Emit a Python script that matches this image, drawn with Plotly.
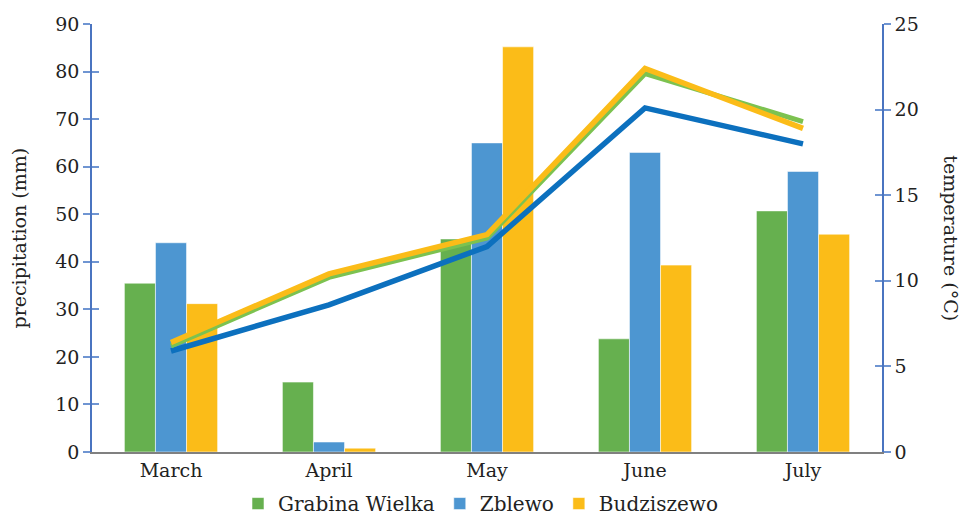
import plotly.graph_objects as go

months = ["March", "April", "May", "June", "July"]
stations = ["Grabina Wielka", "Zblewo", "Budziszewo"]
precip_grabina = [35.5, 14.7, 44.8, 23.8, 50.7]
precip_zblewo = [44.0, 2.1, 65.0, 63.0, 59.0]
precip_budziszewo = [31.2, 0.8, 85.2, 39.3, 45.8]
temp_grabina = [6.2, 10.2, 12.5, 22.1, 19.3]
temp_zblewo = [5.9, 8.6, 12.0, 20.1, 18.0]
temp_budziszewo = [6.4, 10.4, 12.7, 22.4, 18.9]

bar_colors = ["#66B04F", "#4D96D1", "#FBBC18"]
line_colors = ["#7CC250", "#0C70BE", "#FBBC18"]
FONT = "DejaVu Serif"
FS = 19

fig = go.Figure()
for name, vals, col in zip(stations, [precip_grabina, precip_zblewo, precip_budziszewo], bar_colors):
    fig.add_trace(go.Bar(x=months, y=vals, name=name, marker=dict(color=col, line=dict(color="rgba(255,255,255,0.55)", width=1)),
                         yaxis="y"))

for name, vals, col, w in [("Zblewo", temp_zblewo, line_colors[1], 5.5),
                           ("Grabina Wielka", temp_grabina, line_colors[0], 5),
                           ("Budziszewo", temp_budziszewo, line_colors[2], 5.5)]:
    fig.add_trace(go.Scatter(x=months, y=vals, mode="lines", line=dict(color=col, width=w),
                             yaxis="y2", showlegend=False, name=name))

fig.add_trace(go.Scatter(x=months, y=[None]*5, yaxis="y3", showlegend=False, hoverinfo="skip"))
fig.add_trace(go.Scatter(x=months, y=[None]*5, yaxis="y4", showlegend=False, hoverinfo="skip"))

axfont = dict(family=FONT, size=FS, color="#222")
common = dict(showgrid=False, zeroline=False)
fig.update_layout(
    width=961, height=517,
    margin=dict(l=92, r=79, t=24, b=65, autoexpand=False),
    paper_bgcolor="white", plot_bgcolor="white",
    barmode="group", bargap=0.41, bargroupgap=0,
    font=dict(family=FONT, size=FS, color="#222"),
    xaxis=dict(showline=True, linecolor="#808080", linewidth=2, ticks="", tickfont=axfont, showgrid=False),
    yaxis=dict(range=[0, 90], dtick=10, showline=True, linecolor="#4A74C0", linewidth=1.5,
               ticks="outside", ticklen=7, tickcolor="#6F95D2", tickwidth=1.5, tickfont=axfont, **common),
    yaxis3=dict(range=[0, 90], dtick=10, overlaying="y", side="left", showline=False, showticklabels=False,
                ticks="inside", ticklen=7, tickcolor="#6F95D2", tickwidth=1.5, **common),
    yaxis2=dict(range=[0, 25], dtick=5, overlaying="y", side="right", showline=True, linecolor="#4A74C0", linewidth=1.5,
                ticks="outside", ticklen=7, tickcolor="#6F95D2", tickwidth=1.5, tickfont=axfont, **common),
    yaxis4=dict(range=[0, 25], dtick=5, overlaying="y", side="right", showline=False, showticklabels=False,
                ticks="inside", ticklen=7, tickcolor="#6F95D2", tickwidth=1.5, **common),
    legend=dict(orientation="h", x=0.5, xanchor="center", xref="container", y=0.026, yanchor="middle", yref="container",
                bgcolor="rgba(0,0,0,0)", font=dict(family=FONT, size=20, color="#222"), itemwidth=30, traceorder="normal"),
    annotations=[
        dict(text="precipitation (mm)", xref="paper", yref="paper", x=-0.093, y=0.5, textangle=-90,
             showarrow=False, font=dict(family=FONT, size=FS, color="#222"), xanchor="center", yanchor="middle"),
        dict(text="temperature (°C)", xref="paper", yref="paper", x=1.087, y=0.5, textangle=90,
             showarrow=False, font=dict(family=FONT, size=FS, color="#222"), xanchor="center", yanchor="middle"),
    ],
)

fig.write_html("out.html")
